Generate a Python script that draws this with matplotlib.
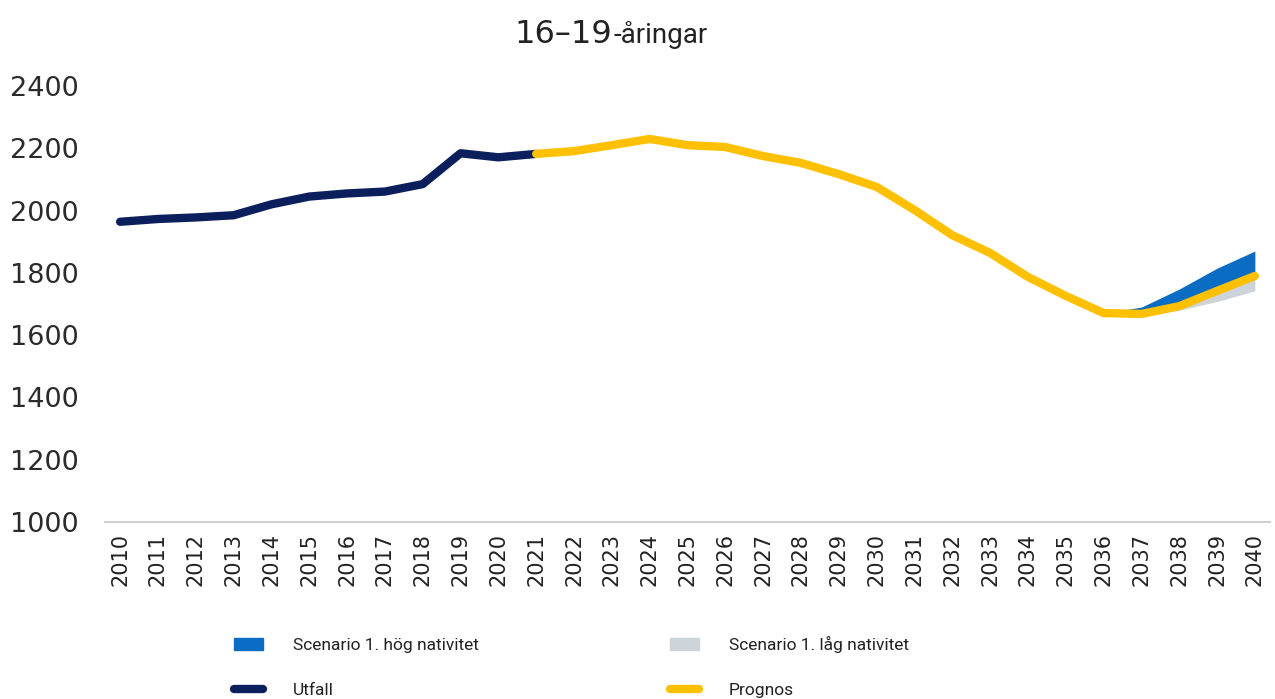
import matplotlib
matplotlib.use("Agg")
import matplotlib.pyplot as plt
from matplotlib.patches import Patch
from matplotlib.lines import Line2D

years_utfall = list(range(2010, 2022))
utfall = [1964, 1973, 1978, 1985, 2020, 2045, 2055, 2061, 2085, 2184, 2171, 2182]

years_prognos = list(range(2021, 2041))
prognos = [2182, 2191, 2210, 2230, 2210, 2204, 2175, 2153, 2117, 2076,
           2002, 1921, 1864, 1787, 1726, 1671, 1668, 1693, 1742, 1790]

years_scen = [2036, 2037, 2038, 2039, 2040]
scen_prognos = [1671, 1668, 1693, 1742, 1790]
scen_hog = [1671, 1690, 1748, 1815, 1870]
scen_lag = [1671, 1662, 1680, 1708, 1742]

yticks = [1000, 1200, 1400, 1600, 1800, 2000, 2200, 2400]
xticks = list(range(2010, 2041))

c_navy = "#0b1f5c"
c_yellow = "#ffc000"
c_blue = "#0a6cc2"
c_gray = "#cdd4d9"

fig = plt.figure(figsize=(12.75, 6.99), dpi=100)
ax = fig.add_axes([105/1275, 1-522/699, (1270-105)/1275, (522-86)/699])

ax.fill_between(years_scen, scen_prognos, scen_hog, color=c_blue, lw=0, zorder=1)
ax.fill_between(years_scen, scen_lag, scen_prognos, color=c_gray, lw=0, zorder=1)
ax.plot(years_utfall, utfall, color=c_navy, lw=6, solid_capstyle="round",
        solid_joinstyle="round", zorder=3)
ax.plot(years_prognos, prognos, color=c_yellow, lw=6, solid_capstyle="round",
        solid_joinstyle="round", zorder=3)

ax.set_xlim(2010 - 0.4, 2040 + 0.4)
ax.set_ylim(1000, 2400)
ax.set_yticks(yticks)
ax.set_xticks(xticks)
ax.set_xticklabels([str(x) for x in xticks], rotation=90, fontsize=15,
                   color="#222222", family="DejaVu Sans")
ax.set_yticklabels([str(y) for y in yticks], fontsize=19.5, color="#2b2b2b",
                   family="DejaVu Sans")
ax.tick_params(axis="both", length=0)
ax.tick_params(axis="y", pad=19)
ax.tick_params(axis="x", pad=8)
for s in ["top", "right", "left"]:
    ax.spines[s].set_visible(False)
ax.spines["bottom"].set_color("#d0d0d0")
ax.spines["bottom"].set_linewidth(1.5)
ax.set_facecolor("none")

fig.text(612/1275, 1-43/699, "16–19", ha="right", va="baseline", fontsize=23,
         color="#222222", family="DejaVu Sans")
fig.text(613/1275, 1-43/699, "-åringar", ha="left", va="baseline", fontsize=20,
         color="#222222", family="Roboto")

handles = [Patch(color=c_blue, label="Scenario 1. hög nativitet"),
           Line2D([], [], color=c_navy, lw=6, solid_capstyle="round", label="Utfall"),
           Patch(color=c_gray, label="Scenario 1. låg nativitet"),
           Line2D([], [], color=c_yellow, lw=6, solid_capstyle="round", label="Prognos")]
leg = fig.legend(handles=handles, ncol=2, loc="upper left",
                 bbox_to_anchor=(218/1275, 1-620/699), frameon=False,
                 prop={"family": "Roboto", "size": 12.5}, handlelength=1.7,
                 handletextpad=1.7, columnspacing=11.0, labelspacing=1.75)
for t in leg.get_texts():
    t.set_color("#222222")

fig.savefig("out.png", dpi=100)
